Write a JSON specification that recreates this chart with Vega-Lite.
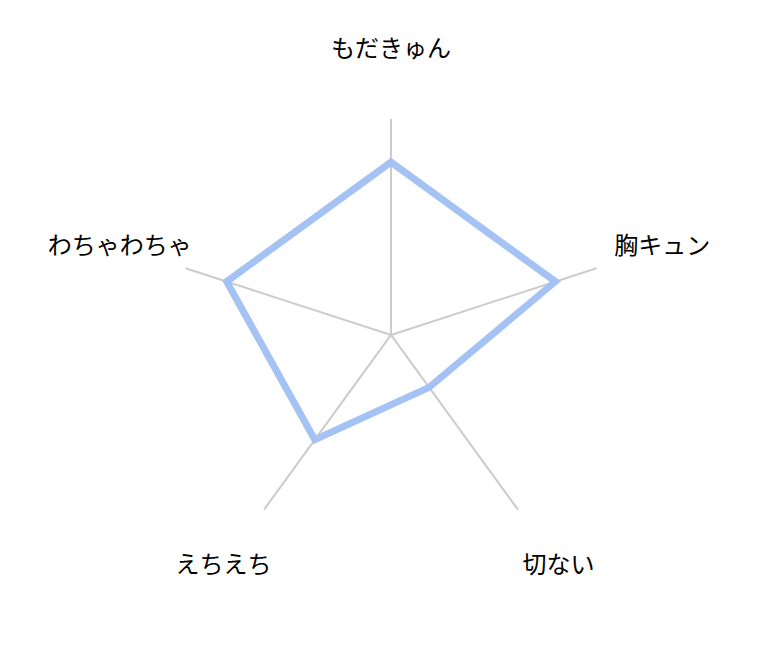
{
  "$schema": "https://vega.github.io/schema/vega-lite/v6.json",
  "width": 782,
  "height": 671,
  "padding": 0,
  "autosize": {"type": "none"},
  "background": "white",
  "config": {"view": {"stroke": null}},
  "data": {
    "values": [
      {"category": "もだきゅん", "value": 4, "index": 0},
      {"category": "胸キュン", "value": 4, "index": 1},
      {"category": "切ない", "value": 1.5, "index": 2},
      {"category": "えちえち", "value": 3, "index": 3},
      {"category": "わちゃわちゃ", "value": 4, "index": 4}
    ]
  },
  "transform": [
    {"calculate": "datum.index * 2 * PI / 5", "as": "angle"},
    {"calculate": "datum.value * sin(datum.angle)", "as": "px"},
    {"calculate": "datum.value * cos(datum.angle)", "as": "py"},
    {"calculate": "5 * sin(datum.angle)", "as": "ax"},
    {"calculate": "5 * cos(datum.angle)", "as": "ay"},
    {"calculate": "6.6 * sin(datum.angle)", "as": "lx"},
    {"calculate": "6.6 * cos(datum.angle)", "as": "ly"}
  ],
  "layer": [
    {
      "mark": {"type": "rule", "color": "#cccccc", "strokeWidth": 2},
      "encoding": {
        "x": {"field": "ax", "type": "quantitative", "scale": {"domain": [-9.05, 9.05], "nice": false, "zero": false}, "axis": null},
        "y": {"field": "ay", "type": "quantitative", "scale": {"domain": [-7.78, 7.755], "nice": false, "zero": false}, "axis": null},
        "x2": {"datum": 0},
        "y2": {"datum": 0}
      }
    },
    {
      "mark": {"type": "line", "interpolate": "linear-closed", "color": "#a4c2f4", "strokeWidth": 7, "strokeJoin": "miter"},
      "encoding": {
        "x": {"field": "px", "type": "quantitative"},
        "y": {"field": "py", "type": "quantitative"},
        "order": {"field": "index", "type": "quantitative"}
      }
    },
    {
      "mark": {"type": "text", "font": "Noto Sans CJK JP", "fontSize": 24, "color": "black", "align": "center", "baseline": "middle"},
      "encoding": {
        "x": {"field": "lx", "type": "quantitative"},
        "y": {"field": "ly", "type": "quantitative"},
        "text": {"field": "category"}
      }
    }
  ]
}
